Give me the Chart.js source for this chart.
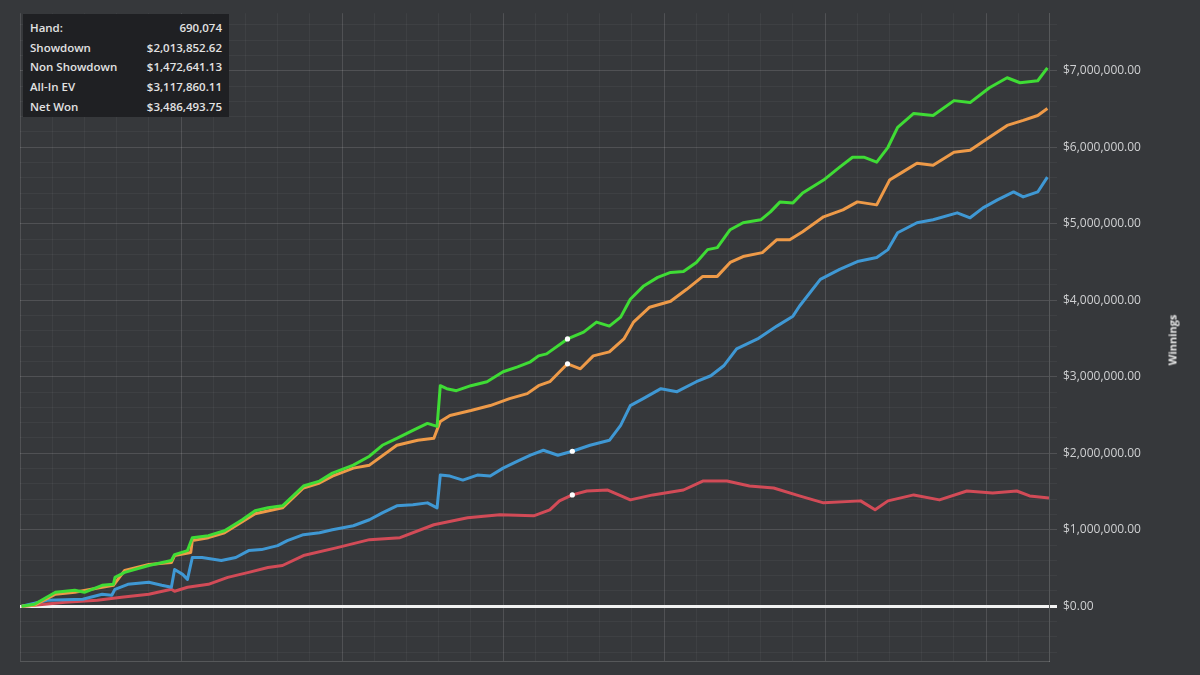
<!DOCTYPE html>
<html>
<head>
<meta charset="utf-8">
<script src="https://cdn.jsdelivr.net/npm/chart.js@4.4.1/dist/chart.umd.min.js"></script>
<style>
  html, body { margin: 0; padding: 0; background: #36383b; }
  #wrap { position: relative; width: 1200px; height: 675px; overflow: hidden; }
  #info { position: absolute; left: 23px; top: 14px; width: 206px; height: 103px; background: #1f2023;
          font-family: "Open Sans", sans-serif; font-weight: 600; font-size: 11.5px; color: #e2e2e2; }
  #info .row { position: absolute; left: 7px; right: 7px; height: 16px; line-height: 16px; }
  #info .row span.v { position: absolute; right: 0; }
  #ytitle { position: absolute; left: 1172px; top: 340px; transform: translate(-50%, -50%) rotate(-90deg);
            font-family: "Open Sans", sans-serif; font-weight: 700; font-size: 11px; color: #e6e6e6; white-space: nowrap; }
</style>
</head>
<body>
<div id="wrap">
  <canvas id="c" width="1200" height="675"></canvas>
  <div id="info"></div>
  <div id="ytitle">Winnings</div>
</div>
<script>
// ---- data (x = hand-sample index, y = winnings in $ thousands) ----
const statLabels = ["Hand:", "Showdown", "Non Showdown", "All-In EV", "Net Won"];
const statValues = ["690,074", "$2,013,852.62", "$1,472,641.13", "$3,117,860.11", "$3,486,493.75"];
const yTickStep = 200000;
const yLabelStep = 1000000;
const xTickStep = 20;
const xMajorStep = 100;

const greenX = [1,9,22,34,40,51,58,59,65,80,94,96,104,107,117,127,138,146,154,163,176,186,194,207,217,225,234,244,253,259,261,265,271,280,290,300,309,317,322,327,340,350,358,366,373,379,387,396,404,412,420,427,433,441,449,460,466,472,480,486,499,509,517,524,532,539,545,555,567,580,590,602,613,621,632,638];
const greenK = [0,26,182,208,182,273,286,377,442,532,597,675,727,896,922,987,1130,1247,1286,1312,1571,1636,1740,1844,1961,2104,2195,2299,2390,2351,2883,2844,2818,2883,2935,3065,3130,3195,3273,3299,3494,3584,3714,3662,3779,4013,4182,4299,4364,4377,4494,4662,4688,4922,5013,5052,5156,5286,5273,5403,5571,5740,5870,5870,5805,6000,6260,6442,6416,6610,6584,6779,6909,6844,6870,7039];

const orangeX = [1,9,22,34,51,58,65,80,94,96,106,107,117,127,138,146,163,176,186,194,207,217,234,247,257,261,267,280,292,304,315,322,329,340,348,356,366,375,381,391,404,414,424,433,441,449,461,470,478,486,499,511,520,532,540,548,557,567,580,590,602,613,623,632,638];
const orangeK = [0,13,156,182,247,273,468,545,571,662,701,857,896,961,1104,1208,1286,1545,1610,1701,1805,1844,2104,2169,2195,2416,2494,2558,2623,2714,2779,2883,2935,3169,3104,3273,3325,3494,3714,3909,3987,4143,4312,4312,4494,4571,4623,4792,4792,4896,5091,5182,5286,5247,5571,5675,5792,5766,5935,5961,6130,6286,6351,6416,6506];

const blueX = [1,17,39,51,57,59,67,80,88,94,96,101,104,107,113,125,134,142,150,160,166,176,186,194,207,217,225,234,244,253,259,261,267,275,284,292,300,309,317,325,334,343,354,366,373,379,387,398,408,420,429,437,445,458,470,480,484,497,509,520,532,539,545,557,567,582,590,598,607,617,623,632,638];
const blueK = [0,78,91,156,143,221,286,312,273,247,481,416,351,636,636,597,636,727,740,792,857,935,961,1000,1052,1130,1221,1312,1325,1351,1286,1714,1701,1649,1714,1701,1805,1896,1974,2039,1974,2026,2104,2169,2364,2623,2714,2844,2805,2935,3013,3143,3364,3494,3662,3792,3922,4273,4403,4506,4558,4662,4883,5013,5052,5143,5078,5208,5312,5416,5351,5416,5610];

const redX = [1,9,28,48,63,80,94,96,104,117,129,142,154,163,176,197,217,236,257,278,298,319,329,335,343,352,365,379,393,412,424,439,453,468,484,499,522,531,539,555,571,588,604,619,627,639];
const redK = [0,13,52,78,117,156,221,195,247,286,377,442,506,532,662,766,870,896,1065,1156,1195,1182,1260,1377,1455,1506,1519,1390,1455,1519,1636,1636,1571,1545,1442,1351,1377,1260,1377,1455,1390,1506,1481,1506,1442,1416];

const markerX = 343; // hover position shown by white dots

// ---- info box ----
const info = document.getElementById('info');
statLabels.forEach((l, i) => {
  const r = document.createElement('div');
  r.className = 'row';
  r.style.top = (6 + i * 19.7) + 'px';
  r.innerHTML = '<span>' + l + '</span><span class="v">' + statValues[i] + '</span>';
  info.appendChild(r);
});

function pts(xs, ks) { return xs.map((x, i) => ({ x: x, y: ks[i] * 1000 })); }
function markerIndex(xs) {
  let best = 0;
  xs.forEach((x, i) => { if (Math.abs(x - markerX) < Math.abs(xs[best] - markerX)) best = i; });
  return best;
}
function ds(label, xs, ks, color) {
  const mi = markerIndex(xs);
  return {
    label: label, data: pts(xs, ks), borderColor: color, borderWidth: 3,
    tension: 0, borderJoinStyle: 'round',
    pointRadius: c => c.dataIndex === mi ? 2.6 : 0,
    pointBackgroundColor: '#ffffff', pointBorderWidth: 0, pointHoverRadius: 0
  };
}

const isMult = (v, step) => Math.abs(v / step - Math.round(v / step)) < 1e-6;
const fmt = v => '$' + v.toLocaleString('en-US', { minimumFractionDigits: 2, maximumFractionDigits: 2 });
function stepTicks(scale, step) {
  const t = [];
  for (let k = Math.ceil(scale.min / step); k * step <= scale.max + 1e-9; k++) t.push({ value: k * step });
  scale.ticks = t;
}

new Chart(document.getElementById('c'), {
  type: 'line',
  data: {
    datasets: [
      ds('Net Won', greenX, greenK, '#3fdc35'),
      ds('All-In EV', orangeX, orangeK, '#ee9a48'),
      ds('Showdown', blueX, blueK, '#3f98d4'),
      ds('Non Showdown', redX, redK, '#d24b57')
    ]
  },
  options: {
    responsive: false, animation: false,
    layout: { padding: { left: 20, top: 12, bottom: 10, right: 0 } },
    plugins: { legend: { display: false }, tooltip: { enabled: false } },
    scales: {
      x: {
        type: 'linear', min: 0, max: 639,
        afterBuildTicks: s => stepTicks(s, xTickStep),
        ticks: { display: false },
        border: { display: true, color: 'rgba(255,255,255,0.16)', width: 1 },
        grid: {
          drawTicks: false,
          color: c => isMult(c.tick.value, xMajorStep) ? 'rgba(255,255,255,0.13)' : 'rgba(255,255,255,0.045)',
          lineWidth: 1
        },
        afterFit: s => { s.height = 0; }
      },
      y: {
        type: 'linear', position: 'right', min: -727000, max: 7753000,
        afterBuildTicks: s => stepTicks(s, yTickStep),
        border: { display: true, color: 'rgba(255,255,255,0.16)', width: 1 },
        grid: {
          tickLength: 8,
          color: c => {
            const v = c.tick.value;
            if (Math.abs(v) < 1) return '#f2f2f2';
            if (isMult(v, yLabelStep)) return 'rgba(255,255,255,0.13)';
            return 'rgba(255,255,255,0.045)';
          },
          lineWidth: c => Math.abs(c.tick.value) < 1 ? 3 : 1
        },
        ticks: {
          autoSkip: false, padding: 6,
          color: '#cfd0d2', font: { family: 'Open Sans', size: 12 },
          callback: v => isMult(v, yLabelStep) ? fmt(v) : ''
        },
        afterFit: s => { s.width = 151; }
      }
    }
  }
});
</script>
</body>
</html>
